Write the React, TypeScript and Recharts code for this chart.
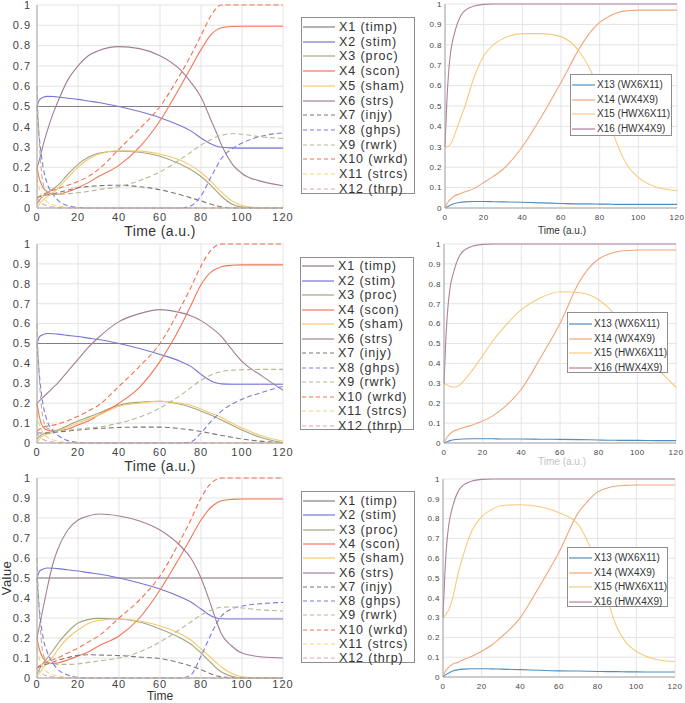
import { LineChart, Line, XAxis, YAxis, CartesianGrid } from "recharts";

const FONT = '"Liberation Sans", Arial, Helvetica, sans-serif';

// shared time grid (a.u.)
const TIME = [0, 1, 2, 3, 5, 8, 10, 15, 20, 25, 30, 40, 50, 60, 70, 75, 80, 85, 88, 90, 95, 100, 110, 120];
const X_TICKS = [0, 20, 40, 60, 80, 100, 120];
const Y_TICKS = [0, 0.1, 0.2, 0.3, 0.4, 0.5, 0.6, 0.7, 0.8, 0.9, 1];

const LEFT_NAMES = [
  "X1 (timp)", "X2 (stim)", "X3 (proc)", "X4 (scon)", "X5 (sham)", "X6 (strs)",
  "X7 (injy)", "X8 (ghps)", "X9 (rwrk)", "X10 (wrkd)", "X11 (strcs)", "X12 (thrp)",
];
const LEFT_COLORS = [
  "#877d82", "#7676d6", "#a0a780", "#f37556", "#f6c86c", "#a47e98",
  "#7d7676", "#7b7bdc", "#b3ba92", "#f3704f", "#f8d47f", "#dba6b7",
];
const LEFT_DASHED = [false, false, false, false, false, false, true, true, true, true, true, true];

const RIGHT_NAMES = ["X13 (WX6X11)", "X14 (WX4X9)", "X15 (HWX6X11)", "X16 (HWX4X9)"];
const RIGHT_COLORS = ["#4f8ec2", "#f1a67a", "#f6cb7e", "#b0809d"];

// series used identically in all three left panels
const timp = [0.5, 0.5, 0.5, 0.5, 0.5, 0.5, 0.5, 0.5, 0.5, 0.5, 0.5, 0.5, 0.5, 0.5, 0.5, 0.5, 0.5, 0.5, 0.5, 0.5, 0.5, 0.5, 0.5, 0.5];
const strcs = [0.15, 0.1, 0.07, 0.05, 0.03, 0.015, 0.01, 0.003, 0, 0, 0, 0, 0, 0, 0, 0, 0, 0, 0, 0, 0, 0, 0, 0];
const thrp = [0.05, 0.035, 0.025, 0.018, 0.01, 0.005, 0.002, 0, 0, 0, 0, 0, 0, 0, 0, 0, 0, 0, 0, 0, 0, 0, 0, 0];

// top row, left
const r1stim = [0.5, 0.53, 0.54, 0.545, 0.55, 0.549, 0.547, 0.541, 0.535, 0.527, 0.52, 0.5, 0.475, 0.445, 0.405, 0.38, 0.345, 0.315, 0.303, 0.299, 0.296, 0.295, 0.295, 0.295];
const r1proc = [0.02, 0.035, 0.05, 0.06, 0.075, 0.095, 0.11, 0.165, 0.215, 0.25, 0.27, 0.28, 0.275, 0.255, 0.215, 0.19, 0.155, 0.11, 0.078, 0.058, 0.02, 0.005, 0, 0];
const r1scon = [0.2, 0.15, 0.12, 0.1, 0.08, 0.068, 0.068, 0.08, 0.1, 0.125, 0.155, 0.21, 0.3, 0.43, 0.6, 0.69, 0.78, 0.855, 0.88, 0.888, 0.894, 0.895, 0.895, 0.895];
const r1sham = [0, 0.015, 0.03, 0.04, 0.055, 0.075, 0.095, 0.15, 0.2, 0.24, 0.265, 0.282, 0.28, 0.265, 0.235, 0.21, 0.175, 0.13, 0.098, 0.078, 0.035, 0.012, 0.001, 0];
const r1strs = [0.2, 0.23, 0.27, 0.31, 0.38, 0.47, 0.52, 0.63, 0.7, 0.75, 0.775, 0.795, 0.785, 0.75, 0.68, 0.62, 0.545, 0.43, 0.36, 0.31, 0.22, 0.17, 0.13, 0.11];
const r1injy = [0.05, 0.055, 0.058, 0.06, 0.065, 0.07, 0.075, 0.088, 0.1, 0.106, 0.11, 0.112, 0.105, 0.09, 0.065, 0.05, 0.035, 0.018, 0.01, 0.006, 0.001, 0, 0, 0];
const r1ghps = [0.5, 0.36, 0.27, 0.2, 0.12, 0.065, 0.04, 0.012, 0.003, 0, 0, 0, 0, 0, 0, 0.01, 0.06, 0.155, 0.21, 0.245, 0.29, 0.32, 0.355, 0.37];
const r1rwrk = [0.6, 0.35, 0.2, 0.12, 0.08, 0.07, 0.068, 0.07, 0.075, 0.082, 0.09, 0.105, 0.135, 0.178, 0.24, 0.275, 0.31, 0.338, 0.352, 0.358, 0.366, 0.363, 0.35, 0.342];
const r1wrkd = [0.05, 0.056, 0.062, 0.068, 0.075, 0.088, 0.095, 0.112, 0.13, 0.155, 0.19, 0.29, 0.39, 0.5, 0.66, 0.75, 0.85, 0.95, 0.99, 1, 1, 1, 1, 1];

// middle row, left
const r2stim = [0.5, 0.53, 0.54, 0.545, 0.55, 0.549, 0.547, 0.541, 0.535, 0.527, 0.52, 0.5, 0.475, 0.445, 0.41, 0.385, 0.345, 0.312, 0.3, 0.297, 0.295, 0.295, 0.295, 0.295];
const r2proc = [0.02, 0.03, 0.04, 0.045, 0.052, 0.058, 0.065, 0.088, 0.11, 0.13, 0.15, 0.19, 0.205, 0.21, 0.195, 0.18, 0.16, 0.14, 0.125, 0.115, 0.09, 0.065, 0.025, 0];
const r2scon = [0.2, 0.14, 0.1, 0.08, 0.065, 0.06, 0.062, 0.07, 0.09, 0.11, 0.14, 0.2, 0.28, 0.41, 0.585, 0.69, 0.795, 0.86, 0.878, 0.886, 0.893, 0.895, 0.895, 0.895];
const r2sham = [0, 0.015, 0.028, 0.036, 0.045, 0.052, 0.06, 0.08, 0.1, 0.12, 0.14, 0.185, 0.2, 0.21, 0.2, 0.19, 0.17, 0.15, 0.138, 0.128, 0.1, 0.075, 0.035, 0.008];
const r2strs = [0.2, 0.21, 0.22, 0.23, 0.25, 0.28, 0.3, 0.36, 0.42, 0.48, 0.53, 0.61, 0.65, 0.67, 0.655, 0.64, 0.615, 0.58, 0.555, 0.535, 0.47, 0.41, 0.335, 0.265];
const r2injy = [0.05, 0.05, 0.05, 0.05, 0.05, 0.052, 0.055, 0.06, 0.065, 0.07, 0.073, 0.078, 0.08, 0.08, 0.072, 0.066, 0.058, 0.048, 0.042, 0.038, 0.029, 0.02, 0.008, 0.002];
const r2ghps = [0.5, 0.36, 0.26, 0.19, 0.11, 0.06, 0.04, 0.012, 0.003, 0, 0, 0, 0, 0, 0, 0.005, 0.05, 0.11, 0.14, 0.16, 0.195, 0.22, 0.255, 0.285];
const r2rwrk = [0.6, 0.35, 0.2, 0.12, 0.075, 0.065, 0.062, 0.065, 0.07, 0.075, 0.08, 0.1, 0.13, 0.176, 0.24, 0.278, 0.315, 0.342, 0.354, 0.36, 0.366, 0.368, 0.37, 0.37];
const r2wrkd = [0.06, 0.068, 0.074, 0.08, 0.085, 0.09, 0.095, 0.112, 0.134, 0.16, 0.19, 0.285, 0.385, 0.5, 0.68, 0.78, 0.89, 0.97, 0.995, 1, 1, 1, 1, 1];

// bottom row, left
const r3stim = [0.5, 0.53, 0.54, 0.545, 0.55, 0.549, 0.547, 0.541, 0.535, 0.527, 0.52, 0.5, 0.475, 0.445, 0.405, 0.38, 0.345, 0.31, 0.299, 0.296, 0.295, 0.295, 0.295, 0.295];
const r3proc = [0.02, 0.04, 0.06, 0.075, 0.1, 0.14, 0.17, 0.23, 0.275, 0.292, 0.298, 0.295, 0.28, 0.245, 0.2, 0.17, 0.125, 0.075, 0.045, 0.03, 0.008, 0, 0, 0];
const r3scon = [0.2, 0.15, 0.12, 0.1, 0.08, 0.072, 0.075, 0.09, 0.11, 0.13, 0.16, 0.21, 0.3, 0.44, 0.61, 0.7, 0.79, 0.855, 0.878, 0.886, 0.893, 0.895, 0.895, 0.895];
const r3sham = [0, 0.02, 0.035, 0.05, 0.08, 0.11, 0.14, 0.2, 0.24, 0.272, 0.288, 0.295, 0.285, 0.26, 0.22, 0.19, 0.145, 0.1, 0.072, 0.055, 0.022, 0.006, 0, 0];
const r3strs = [0.2, 0.25, 0.3, 0.35, 0.45, 0.58, 0.64, 0.74, 0.79, 0.81, 0.82, 0.81, 0.785, 0.74, 0.66, 0.6, 0.5, 0.36, 0.27, 0.22, 0.16, 0.125, 0.105, 0.1];
const r3injy = [0.05, 0.055, 0.06, 0.065, 0.07, 0.08, 0.088, 0.102, 0.113, 0.116, 0.115, 0.112, 0.105, 0.097, 0.075, 0.06, 0.042, 0.02, 0.01, 0.006, 0.001, 0, 0, 0];
const r3ghps = [0.5, 0.36, 0.27, 0.2, 0.13, 0.07, 0.045, 0.015, 0.003, 0, 0, 0, 0, 0, 0, 0.015, 0.11, 0.22, 0.28, 0.31, 0.345, 0.36, 0.372, 0.378];
const r3rwrk = [0.6, 0.35, 0.2, 0.12, 0.08, 0.07, 0.068, 0.068, 0.07, 0.078, 0.085, 0.1, 0.13, 0.18, 0.245, 0.28, 0.315, 0.34, 0.35, 0.354, 0.355, 0.35, 0.34, 0.335];
const r3wrkd = [0.05, 0.06, 0.066, 0.072, 0.08, 0.092, 0.1, 0.125, 0.15, 0.18, 0.21, 0.3, 0.39, 0.51, 0.69, 0.79, 0.9, 0.975, 0.995, 1, 1, 1, 1, 1];

// right column (complexes)
const hwx4x9 = [0.3, 0.53, 0.68, 0.77, 0.86, 0.94, 0.965, 0.99, 0.998, 1, 1, 1, 1, 1, 1, 1, 1, 1, 1, 1, 1, 1, 1, 1];

const r1wx6x11 = [0, 0.005, 0.01, 0.015, 0.022, 0.028, 0.03, 0.032, 0.032, 0.031, 0.03, 0.028, 0.025, 0.022, 0.02, 0.02, 0.019, 0.019, 0.018, 0.018, 0.018, 0.018, 0.018, 0.018];
const r1wx4x9 = [0, 0.02, 0.035, 0.045, 0.06, 0.07, 0.078, 0.095, 0.125, 0.155, 0.19, 0.3, 0.45, 0.615, 0.79, 0.86, 0.91, 0.94, 0.953, 0.96, 0.967, 0.97, 0.97, 0.97];
const r1hwx6x11 = [0.3, 0.3, 0.305, 0.315, 0.36, 0.44, 0.49, 0.64, 0.745, 0.8, 0.83, 0.855, 0.855, 0.84, 0.76, 0.68, 0.57, 0.42, 0.34, 0.29, 0.2, 0.15, 0.1, 0.085];

const r2wx6x11 = [0, 0.004, 0.008, 0.012, 0.016, 0.019, 0.02, 0.021, 0.021, 0.021, 0.02, 0.02, 0.019, 0.018, 0.017, 0.016, 0.015, 0.014, 0.014, 0.013, 0.013, 0.013, 0.012, 0.012];
const r2wx4x9 = [0, 0.02, 0.035, 0.045, 0.06, 0.07, 0.077, 0.092, 0.11, 0.135, 0.17, 0.27, 0.43, 0.6, 0.81, 0.88, 0.925, 0.948, 0.957, 0.962, 0.967, 0.97, 0.97, 0.97];
const r2hwx6x11 = [0.3, 0.295, 0.29, 0.285, 0.28, 0.29, 0.31, 0.37, 0.44, 0.51, 0.57, 0.67, 0.73, 0.76, 0.755, 0.745, 0.72, 0.68, 0.65, 0.63, 0.56, 0.5, 0.38, 0.28];

const r3wx6x11 = [0, 0.008, 0.015, 0.02, 0.03, 0.037, 0.04, 0.042, 0.042, 0.041, 0.04, 0.037, 0.034, 0.031, 0.03, 0.029, 0.028, 0.027, 0.027, 0.027, 0.026, 0.026, 0.025, 0.025];
const r3wx4x9 = [0, 0.025, 0.04, 0.05, 0.065, 0.075, 0.085, 0.105, 0.13, 0.16, 0.2, 0.3, 0.46, 0.63, 0.83, 0.89, 0.935, 0.955, 0.962, 0.965, 0.968, 0.97, 0.97, 0.97];
const r3hwx6x11 = [0.3, 0.31, 0.325, 0.34, 0.4, 0.53, 0.6, 0.74, 0.81, 0.845, 0.865, 0.87, 0.86, 0.83, 0.77, 0.68, 0.56, 0.4, 0.3, 0.25, 0.17, 0.13, 0.09, 0.078];

const ROW1_LEFT = [timp, r1stim, r1proc, r1scon, r1sham, r1strs, r1injy, r1ghps, r1rwrk, r1wrkd, strcs, thrp];
const ROW2_LEFT = [timp, r2stim, r2proc, r2scon, r2sham, r2strs, r2injy, r2ghps, r2rwrk, r2wrkd, strcs, thrp];
const ROW3_LEFT = [timp, r3stim, r3proc, r3scon, r3sham, r3strs, r3injy, r3ghps, r3rwrk, r3wrkd, strcs, thrp];
const ROW1_RIGHT = [r1wx6x11, r1wx4x9, r1hwx6x11, hwx4x9];
const ROW2_RIGHT = [r2wx6x11, r2wx4x9, r2hwx6x11, hwx4x9];
const ROW3_RIGHT = [r3wx6x11, r3wx4x9, r3hwx6x11, hwx4x9];

function toRows(series: number[][]) {
  return TIME.map((t, i) => {
    const row: Record<string, number> = { t };
    series.forEach((s, k) => (row["s" + k] = s[i]));
    return row;
  });
}

interface PlotProps {
  x: number;
  y: number;
  w: number;
  h: number;
  series: number[][];
  colors: string[];
  dashed?: boolean[];
  small?: boolean;
  xGap?: number;
}

function Plot({ x, y, w, h, series, colors, dashed, small, xGap }: PlotProps) {
  const yw = small ? 30 : 40;
  const mr = small ? 8 : 16;
  const fs = small ? 8 : 11;
  const ls = small ? 0.5 : 1;
  const data = toRows(series);

  const yTick = (p: any) => (
    <text x={p.x} y={p.y} dy={fs * 0.35} textAnchor="end" fontSize={fs} fill="#444" fontFamily={FONT} letterSpacing={ls}>
      {p.payload.value}
    </text>
  );
  const xTick = (p: any) => (
    <text x={p.x} y={p.y} dy={fs * 0.75} textAnchor="middle" fontSize={fs} fill="#444" fontFamily={FONT} letterSpacing={ls}>
      {p.payload.value}
    </text>
  );

  return (
    <div style={{ position: "absolute", left: x - yw, top: y - 5 }}>
      <LineChart width={w + yw + mr} height={h + 5 + 20} data={data} margin={{ top: 5, right: mr, left: 0, bottom: 0 }}>
        <CartesianGrid stroke="#e4e4e4" />
        <XAxis
          dataKey="t"
          type="number"
          domain={[0, 120]}
          ticks={X_TICKS}
          height={20}
          stroke="#a8a8a8"
          tickLine={false}
          tickSize={0}
          tickMargin={xGap ?? (small ? 6 : 5)}
          tick={xTick}
          interval={0}
        />
        <YAxis
          type="number"
          domain={[0, 1]}
          ticks={Y_TICKS}
          width={yw}
          stroke="#a8a8a8"
          tickLine={false}
          tickSize={0}
          tickMargin={small ? 3 : 6}
          tick={yTick}
          interval={0}
        />
        {series.map((_, k) => (
          <Line
            key={k}
            dataKey={"s" + k}
            type="monotone"
            stroke={colors[k]}
            strokeWidth={1.1}
            strokeDasharray={dashed && dashed[k] ? "5 3" : undefined}
            dot={false}
            activeDot={false}
            isAnimationActive={false}
          />
        ))}
      </LineChart>
    </div>
  );
}

interface LegendProps {
  x: number;
  y: number;
  w: number;
  h: number;
  names: string[];
  colors: string[];
  dashed?: boolean[];
  first: number;
  gap: number;
  small?: boolean;
}

function LegendBox({ x, y, w, h, names, colors, dashed, first, gap, small }: LegendProps) {
  const lineW = small ? 23 : 32;
  return (
    <div
      style={{
        position: "absolute",
        left: x,
        top: y,
        width: w,
        height: h,
        boxSizing: "border-box",
        border: "1px solid #8e8e8e",
        background: "#fff",
      }}
    >
      {names.map((n, i) => (
        <div
          key={n}
          style={{
            position: "absolute",
            left: 1,
            top: first + i * gap - 7,
            height: 14,
            display: "flex",
            alignItems: "center",
            whiteSpace: "nowrap",
          }}
        >
          <svg width={lineW} height={4} style={{ display: "block" }}>
            <line
              x1={0}
              y1={2}
              x2={lineW}
              y2={2}
              stroke={colors[i]}
              strokeWidth={1.2}
              strokeDasharray={dashed && dashed[i] ? "4 3" : undefined}
            />
          </svg>
          <span
            style={{
              marginLeft: small ? 2 : 4,
              fontFamily: FONT,
              fontSize: small ? 10 : 12.5,
              letterSpacing: small ? 0 : 0.9,
              color: "#333",
              lineHeight: "14px",
            }}
          >
            {n}
          </span>
        </div>
      ))}
    </div>
  );
}

function Title({ cx, cy, text, size, color = "#333", rotate = false }: { cx: number; cy: number; text: string; size: number; color?: string; rotate?: boolean }) {
  return (
    <div
      style={{
        position: "absolute",
        left: cx,
        top: cy,
        transform: `translate(-50%, -50%)${rotate ? " rotate(-90deg)" : ""}`,
        fontFamily: FONT,
        fontSize: size,
        letterSpacing: size > 12 ? 0.4 : 0,
        color,
        lineHeight: 1,
        whiteSpace: "nowrap",
      }}
    >
      {text}
    </div>
  );
}

export default function App() {
  return (
    <div style={{ position: "fixed", left: 0, top: 0, width: 685, height: 703, overflow: "hidden", background: "#fff" }}>
      <Plot x={37} y={5} w={246} h={203} series={ROW1_LEFT} colors={LEFT_COLORS} dashed={LEFT_DASHED} />
      <Plot x={37} y={244} w={246} h={199} series={ROW2_LEFT} colors={LEFT_COLORS} dashed={LEFT_DASHED} />
      <Plot x={37} y={478} w={246} h={200} series={ROW3_LEFT} colors={LEFT_COLORS} dashed={LEFT_DASHED} xGap={2} />

      <Plot x={445} y={4} w={232} h={204} series={ROW1_RIGHT} colors={RIGHT_COLORS} small />
      <Plot x={444} y={244} w={232} h={199} series={ROW2_RIGHT} colors={RIGHT_COLORS} small />
      <Plot x={443} y={479} w={232} h={198} series={ROW3_RIGHT} colors={RIGHT_COLORS} small />

      <LegendBox x={301} y={17} w={114} h={177} names={LEFT_NAMES} colors={LEFT_COLORS} dashed={LEFT_DASHED} first={9} gap={14.7} />
      <LegendBox x={300} y={257} w={114} h={173} names={LEFT_NAMES} colors={LEFT_COLORS} dashed={LEFT_DASHED} first={8} gap={14.5} />
      <LegendBox x={301} y={491} w={114} h={172} names={LEFT_NAMES} colors={LEFT_COLORS} dashed={LEFT_DASHED} first={9} gap={14.3} />

      <LegendBox x={570} y={74} w={102} h={62} names={RIGHT_NAMES} colors={RIGHT_COLORS} first={10} gap={14.6} small />
      <LegendBox x={567} y={312} w={101} h={61} names={RIGHT_NAMES} colors={RIGHT_COLORS} first={11} gap={14.5} small />
      <LegendBox x={567} y={547} w={101} h={60} names={RIGHT_NAMES} colors={RIGHT_COLORS} first={10} gap={14.5} small />

      <Title cx={160} cy={231} text="Time (a.u.)" size={14} />
      <Title cx={160} cy={466} text="Time (a.u.)" size={14} />
      <Title cx={160} cy={696} text="Time" size={12} />
      <Title cx={6} cy={578} text="Value" size={13} rotate />
      <Title cx={562} cy={231} text="Time (a.u.)" size={10} />
      <Title cx={562} cy={462} text="Time (a.u.)" size={10} color="#c4c4c4" />
    </div>
  );
}
